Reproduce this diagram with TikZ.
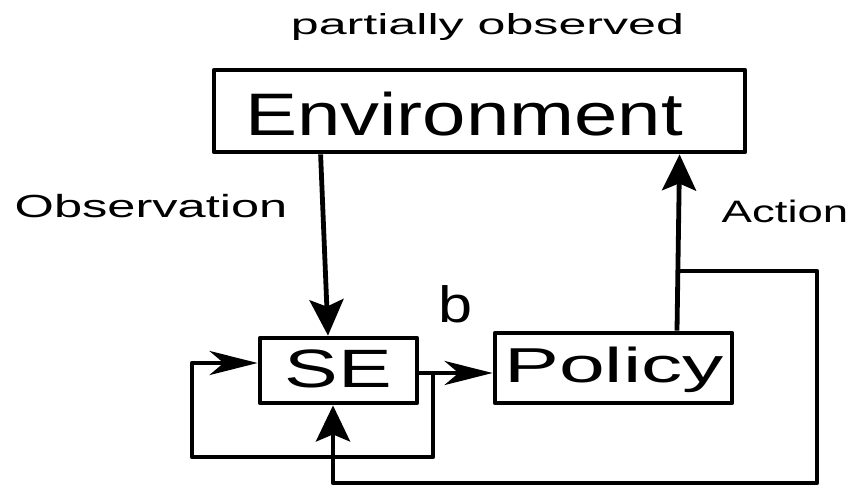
\documentclass[tikz,border=0pt]{standalone}
\usepackage{fontspec}
\setmainfont{Liberation Sans}
\usetikzlibrary{arrows.meta,calc}
% horizontally stretched text
\newcommand{\xstr}[2]{\scalebox{#1}[1]{#2}}
\tikzset{
  box/.style={draw, line width=4.8pt, line join=round, inner sep=0pt},
  wire/.style={line width=4.8pt, line join=round},
  arrV/.style={wire, -{Stealth[length=36pt,width=34pt,inset=7pt]}},
  arrH/.style={wire, -{Stealth[length=48pt,width=24pt,inset=14pt]}},
  lbl/.style={inner sep=0pt, anchor=base},
}
\begin{document}
\begin{tikzpicture}[x=1pt,y=-1pt]
\useasboundingbox (0,0) rectangle (854,488);

% blocks
\node[box, minimum width=531pt, minimum height=82pt] (env) at (479.5,111) {};
\node[box, minimum width=157pt, minimum height=65pt] (se) at (338.5,370.5) {};
\node[box, minimum width=237pt, minimum height=70pt] (pol) at (613.5,368) {};

% block titles
\node[lbl] (envT) at (464,135) {\fontsize{60}{70}\selectfont\xstr{1.3}{Environment}};
\node[lbl] (seT) at (338,387) {\fontsize{54}{64}\selectfont\xstr{1.49}{SE}};
\node[lbl] (polT) at (614,382) {\fontsize{49}{58}\selectfont\xstr{1.68}{Policy}};

% annotations
\node[lbl] (po) at (487.5,34) {\fontsize{29}{34}\selectfont\xstr{1.73}{partially observed}};
\node[lbl] (obsL) at (151,217) {\fontsize{32}{38}\selectfont\xstr{1.58}{Observation}};
\node[lbl] (actL) at (785,222) {\fontsize{31}{37}\selectfont\xstr{1.47}{Action}};
\node[lbl] (bL) at (456,322) {\fontsize{51}{60}\selectfont\xstr{1.2}{b}};

% observation: environment -> state estimator
\draw[arrV] ($(env.south west)+(109,0)$) -- ($(se.north)+(-10.5,0)$);

% action: policy -> environment
\draw[arrV] ($(pol.north)+(63.5,0)$) -- ($(env.south west)+(468,0)$);

% belief: state estimator -> policy
\coordinate (sOut) at ($(se.east)+(0,2.5)$);
\draw[arrH] (sOut) -- (pol.west |- sOut);

% belief fed back into the state estimator
\coordinate (fb) at (433,373);
\coordinate (fbL) at (192,457);
\draw[arrH] (fb) |- (fbL) |- ($(se.west)+(0,-7.5)$);

% action fed back into the state estimator
\coordinate (br) at (680,271);
\coordinate (brR) at (817,483);
\draw[arrV] (br) -| (brR) -| ($(se.south)+(-5.5,0)$);
\end{tikzpicture}
\end{document}
